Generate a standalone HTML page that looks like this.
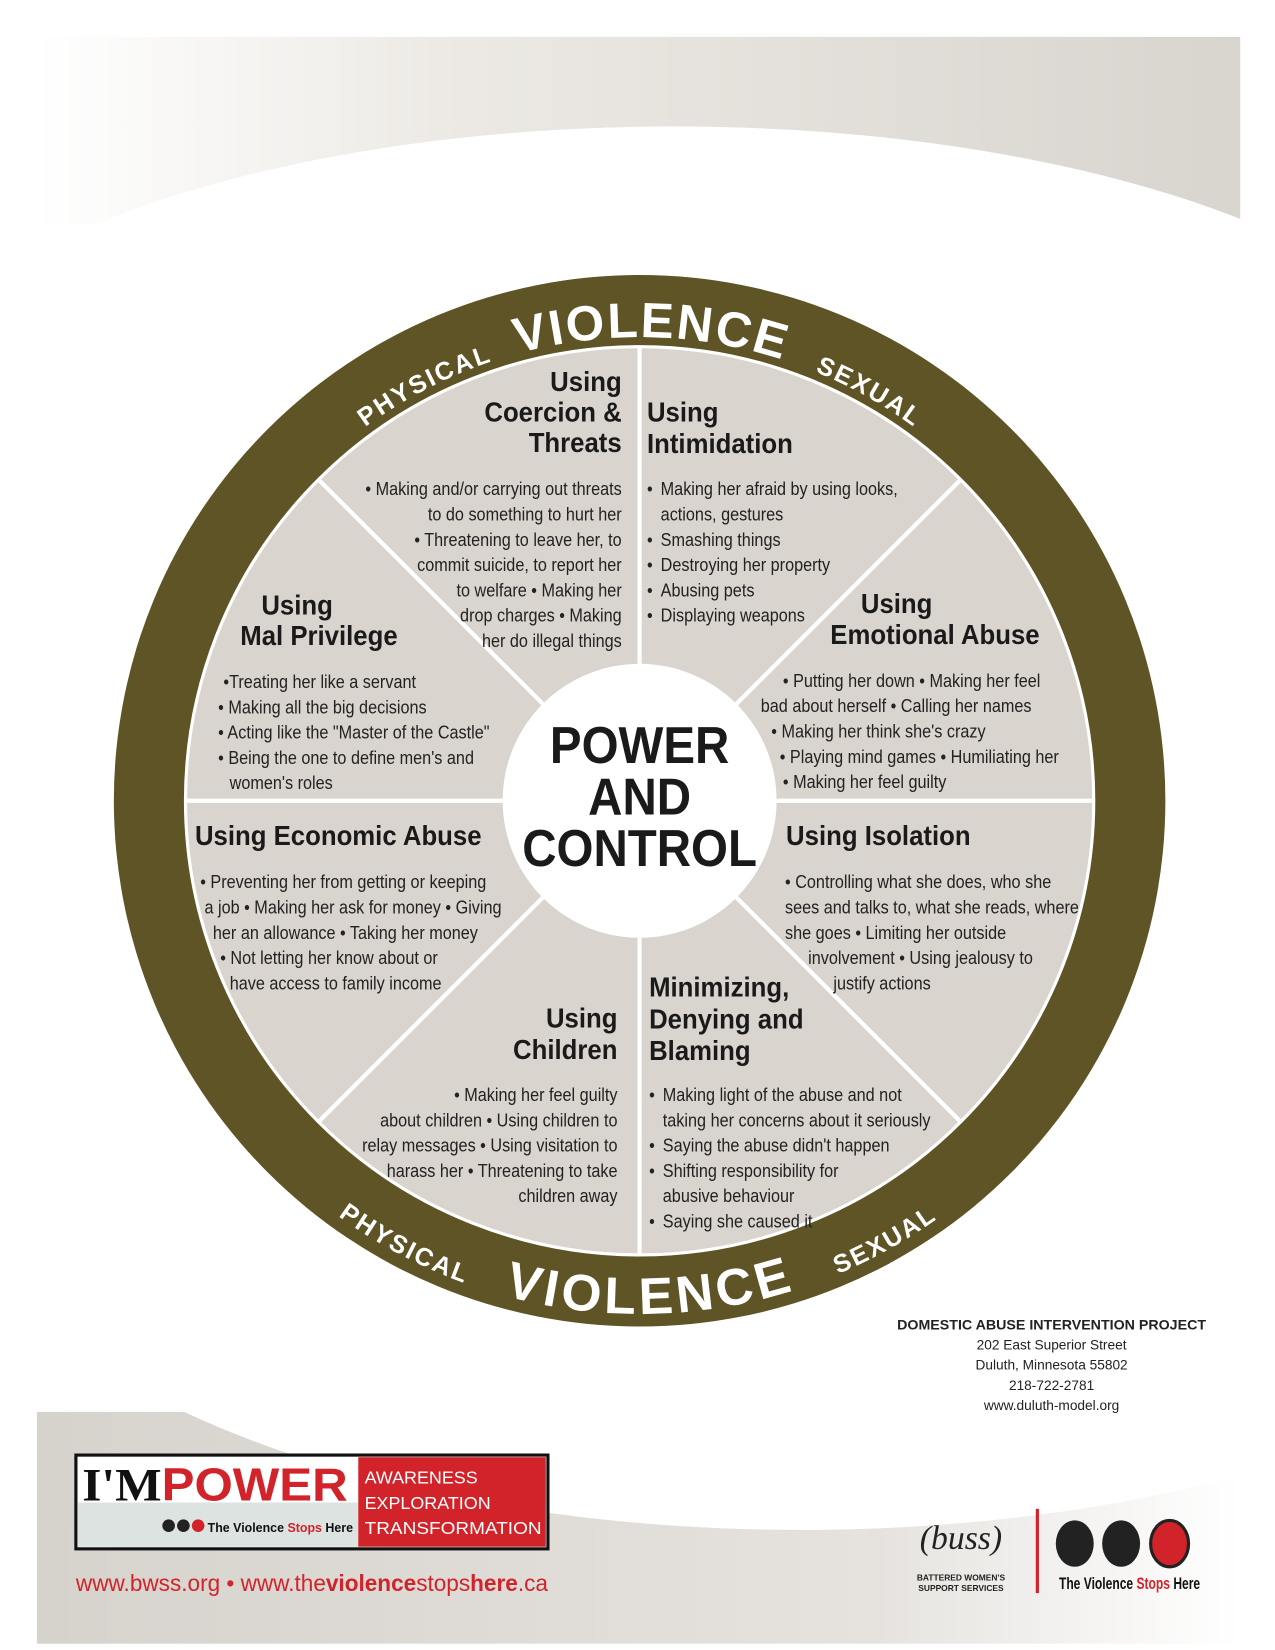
<!DOCTYPE html>
<html><head><meta charset="utf-8"><style>
html,body{margin:0;padding:0;background:#fff}
svg{display:block}
.b{font-family:"Liberation Sans Narrow","Liberation Sans",sans-serif;font-size:17.5px;fill:#222}
.b text{transform-box:fill-box;transform-origin:0 50%;transform:scaleX(.88)}
.e text{transform-origin:100% 50%}
.h{font-family:"Liberation Sans Narrow","Liberation Sans",sans-serif;font-size:26px;font-weight:bold;fill:#1a1a1a;transform-box:fill-box;transform-origin:0 50%;transform:scaleX(.94)}
.he{transform-origin:100% 50%}
.c{transform-origin:50% 50%;transform:scaleX(.92)}
.r{fill:#fff;font-family:"Liberation Sans","DejaVu Sans",sans-serif;font-weight:bold}
</style></head><body>
<svg width="1275" height="1650" viewBox="0 0 1210 1566" xmlns="http://www.w3.org/2000/svg">
<defs>
<linearGradient id="tg" x1="0" x2="1" y1="0" y2="0"><stop offset="0" stop-color="#fff"/><stop offset="0.35" stop-color="#ece9e4"/><stop offset="1" stop-color="#d8d4ce"/></linearGradient>
<linearGradient id="bg" x1="0" x2="1" y1="0" y2="0"><stop offset="0" stop-color="#d6d2cc"/><stop offset="0.7" stop-color="#e6e3df"/><stop offset="1" stop-color="#fff"/></linearGradient>
<path id="topArc" d="M 167 760 A 440 440 0 0 1 1047 760"/>
<path id="botArc" d="M 120 760 A 487 487 0 0 0 1094 760"/>
</defs>
<rect x="35" y="35" width="1142" height="178" fill="url(#tg)"/>
<ellipse cx="640" cy="420" rx="760" ry="300" fill="#fff"/>
<rect x="35" y="1340" width="1142" height="220" fill="url(#bg)"/>
<ellipse cx="760" cy="1100" rx="800" ry="352" fill="#fff"/>
<circle cx="607" cy="760" r="499" fill="#5f5426"/>
<circle cx="607" cy="760" r="431" fill="#d9d4cd" stroke="#fff" stroke-width="3"/>
<g stroke="#fff" stroke-width="4">
<line x1="607" y1="329" x2="607" y2="1191"/>
<line x1="176" y1="760" x2="1038" y2="760"/>
<line x1="302" y1="455" x2="912" y2="1065"/>
<line x1="302" y1="1065" x2="912" y2="455"/>
</g>
<circle cx="607" cy="760" r="130" fill="#fff"/>
<g class="h c" style="font-size:49px" text-anchor="middle">
<text x="607" y="724">POWER</text><text x="607" y="773">AND</text><text x="607" y="822">CONTROL</text>
</g>
<text class="r" font-size="24" letter-spacing="2"><textPath href="#topArc" startOffset="34.8%" text-anchor="middle">PHYSICAL</textPath></text>
<text class="r" font-size="47" letter-spacing="2"><textPath href="#topArc" startOffset="50.8%" text-anchor="middle">VIOLENCE</textPath></text>
<text class="r" font-size="24" letter-spacing="2"><textPath href="#topArc" startOffset="66.3%" text-anchor="middle">SEXUAL</textPath></text>
<text class="r" font-size="24" letter-spacing="2"><textPath href="#botArc" startOffset="34.5%" text-anchor="middle">PHYSICAL</textPath></text>
<text class="r" font-size="49" letter-spacing="4"><textPath href="#botArc" startOffset="50.7%" text-anchor="middle">VIOLENCE</textPath></text>
<text class="r" font-size="24" letter-spacing="2"><textPath href="#botArc" startOffset="66.2%" text-anchor="middle">SEXUAL</textPath></text>
<g text-anchor="end">
<text class="h he" x="590" y="371">Using</text><text class="h he" x="590" y="400">Coercion &amp;</text><text class="h he" x="590" y="429">Threats</text>
<g class="b e"><text x="590" y="470">• Making and/or carrying out threats</text><text x="590" y="494">to do something to hurt her</text><text x="590" y="518">• Threatening to leave her, to</text><text x="590" y="542">commit suicide, to report her</text><text x="590" y="566">to welfare • Making her</text><text x="590" y="590">drop charges • Making</text><text x="590" y="614">her do illegal things</text></g>
<text class="h he" x="586" y="975">Using</text><text class="h he" x="586" y="1005">Children</text>
<g class="b e"><text x="586" y="1045">• Making her feel guilty</text><text x="586" y="1069">about children • Using children to</text><text x="586" y="1093">relay messages • Using visitation to</text><text x="586" y="1117">harass her • Threatening to take</text><text x="586" y="1141">children away</text></g>
</g>
<text class="h" x="614" y="400">Using</text><text class="h" x="614" y="430">Intimidation</text>
<g class="b"><text x="614" y="470">•</text><text x="627" y="470">Making her afraid by using looks,</text><text x="627" y="494">actions, gestures</text>
<text x="614" y="518">•</text><text x="627" y="518">Smashing things</text><text x="614" y="542">•</text><text x="627" y="542">Destroying her property</text><text x="614" y="566">•</text><text x="627" y="566">Abusing pets</text><text x="614" y="590">•</text><text x="627" y="590">Displaying weapons</text></g>
<text class="h" x="817" y="582">Using</text><text class="h" x="788" y="611">Emotional Abuse</text>
<g class="b"><text x="743" y="652">• Putting her down • Making her feel</text><text x="722" y="676">bad about herself • Calling her names</text><text x="732" y="700">• Making her think she's crazy</text><text x="740" y="724">• Playing mind games • Humiliating her</text><text x="743" y="748">• Making her feel guilty</text></g>
<text class="h" x="746" y="802">Using Isolation</text>
<g class="b"><text x="745" y="843">• Controlling what she does, who she</text><text x="745" y="867">sees and talks to, what she reads, where</text><text x="745" y="891">she goes • Limiting her outside</text><text x="767" y="915">involvement • Using jealousy to</text><text x="791" y="939">justify actions</text></g>
<text class="h" x="616" y="946">Minimizing,</text><text class="h" x="616" y="976">Denying and</text><text class="h" x="616" y="1006">Blaming</text>
<g class="b"><text x="616" y="1045">•</text><text x="629" y="1045">Making light of the abuse and not</text><text x="629" y="1069">taking her concerns about it seriously</text><text x="616" y="1093">•</text><text x="629" y="1093">Saying the abuse didn't happen</text><text x="616" y="1117">•</text><text x="629" y="1117">Shifting responsibility for</text><text x="629" y="1141">abusive behaviour</text><text x="616" y="1165">•</text><text x="629" y="1165">Saying she caused it</text></g>
<text class="h" x="185" y="802">Using Economic Abuse</text>
<g class="b"><text x="190" y="843">• Preventing her from getting or keeping</text><text x="194" y="867">a job • Making her ask for money • Giving</text><text x="202" y="891">her an allowance • Taking her money</text><text x="209" y="915">• Not letting her know about or</text><text x="218" y="939">have access to family income</text></g>
<text class="h" x="248" y="583">Using</text><text class="h" x="228" y="612">Mal Privilege</text>
<g class="b"><text x="212" y="653">•Treating her like a servant</text><text x="207" y="677">• Making all the big decisions</text><text x="207" y="701">• Acting like the "Master of the Castle"</text><text x="207" y="725">• Being the one to define men's and</text><text x="218" y="749">women's roles</text></g>
<g font-family="Liberation Sans,sans-serif" text-anchor="middle" fill="#222">
<text x="998" y="1262" font-size="13.5" font-weight="bold">DOMESTIC ABUSE INTERVENTION PROJECT</text>
<text x="998" y="1281" font-size="13">202 East Superior Street</text>
<text x="998" y="1300" font-size="13">Duluth, Minnesota 55802</text>
<text x="998" y="1319" font-size="13">218-722-2781</text>
<text x="998" y="1338" font-size="13">www.duluth-model.org</text>
</g>
<rect x="72" y="1381" width="448" height="89" fill="#fff" stroke="#111" stroke-width="3"/>
<rect x="74" y="1426" width="266" height="42" fill="#dde3e0"/>
<rect x="340" y="1383" width="178" height="85" fill="#d2232a"/>
<text x="78" y="1424" font-family="Liberation Serif,serif" font-weight="bold" font-size="44" fill="#111" textLength="252" lengthAdjust="spacingAndGlyphs">I'M<tspan fill="#d2232a" font-family="Liberation Sans,sans-serif">POWER</tspan></text>
<circle cx="160" cy="1448" r="6" fill="#222"/><circle cx="174" cy="1448" r="6" fill="#222"/><circle cx="188" cy="1448" r="6" fill="#d2232a"/>
<text x="197" y="1454" font-family="Liberation Sans,sans-serif" font-weight="bold" font-size="12" fill="#111" textLength="138" lengthAdjust="spacingAndGlyphs">The Violence <tspan fill="#d2232a">Stops</tspan> Here</text>
<g font-family="Liberation Sans,sans-serif" font-size="17" fill="#fff"><text x="346" y="1408">AWARENESS</text><text x="346" y="1432">EXPLORATION</text><text x="346" y="1456" textLength="168" lengthAdjust="spacingAndGlyphs">TRANSFORMATION</text></g>
<text x="72" y="1510" font-family="Liberation Sans,sans-serif" font-size="22" fill="#d2232a" textLength="448" lengthAdjust="spacingAndGlyphs">www.bwss.org • www.the<tspan font-weight="bold">violence</tspan>stops<tspan font-weight="bold">here</tspan>.ca</text>
<text x="912" y="1470" font-family="Liberation Serif,serif" font-style="italic" font-size="32" fill="#222" text-anchor="middle">(buss)</text>
<text x="912" y="1500" font-family="Liberation Sans,sans-serif" font-weight="bold" font-size="8" fill="#222" text-anchor="middle">BATTERED WOMEN'S</text>
<text x="912" y="1510" font-family="Liberation Sans,sans-serif" font-weight="bold" font-size="8" fill="#222" text-anchor="middle">SUPPORT SERVICES</text>
<rect x="983" y="1432" width="3" height="80" fill="#d2232a"/>
<ellipse cx="1020" cy="1465" rx="18" ry="22" fill="#222"/><ellipse cx="1064" cy="1465" rx="18" ry="22" fill="#222"/><ellipse cx="1110" cy="1465" rx="18" ry="22" fill="#d2232a" stroke="#222" stroke-width="3"/>
<text x="1005" y="1508" font-family="Liberation Sans,sans-serif" font-weight="bold" font-size="16" fill="#111" textLength="134" lengthAdjust="spacingAndGlyphs">The Violence <tspan fill="#d2232a">Stops</tspan> Here</text>
</svg>
</body></html>
